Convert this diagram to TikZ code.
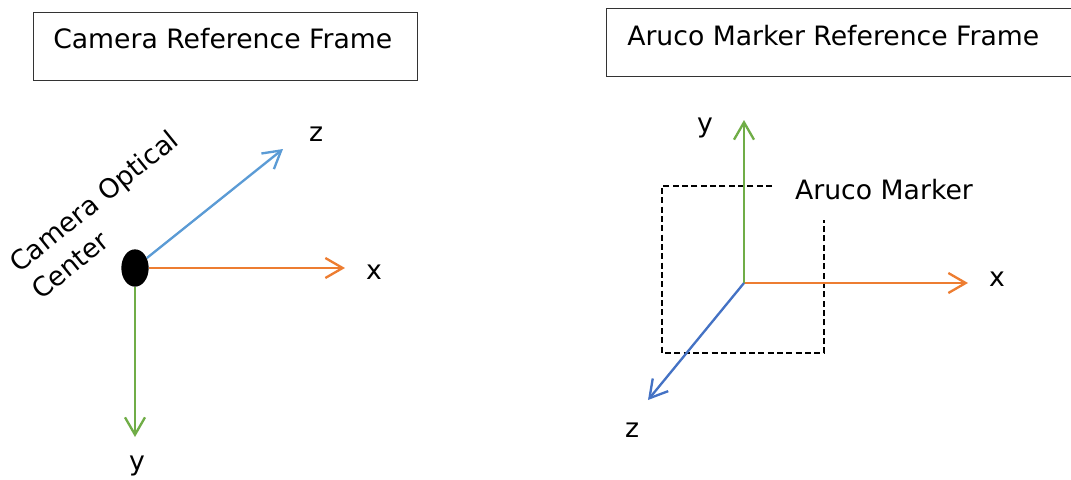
\documentclass[tikz,border=0pt]{standalone}
\usepackage{fontspec}
\setmainfont{DejaVu Sans}
\usepackage{tikz}
\usetikzlibrary{positioning,calc,shapes.geometric,arrows.meta}

\definecolor{axisorange}{HTML}{ED7D31}
\definecolor{axisgreen}{HTML}{70AD47}
\definecolor{axisblue}{HTML}{5B9BD5}
\definecolor{axisdarkblue}{HTML}{4472C4}

\begin{document}
\begin{tikzpicture}[x=0.75pt, y=-0.75pt, >={Straight Barb[length=13pt, width=15pt]},
  title/.style={rectangle, draw=black!80, thin, minimum width=288pt, minimum height=51pt, anchor=north west},
  lbl/.style={font=\fontsize{20}{26}\selectfont, inner sep=0pt},
  axis/.style={->, line width=1.75pt},
  marker/.style={line width=1.5pt, dash pattern=on 4.5pt off 2.5pt}]

  \useasboundingbox (0,0) rectangle (1071,479);

  % title boxes
  \node [title] (camtitle) at (33,12) {};
  \node [lbl, anchor=base west] (camtext) at (53,48) {Camera Reference Frame};
  \begin{scope}
    \clip (0,0) rectangle (1071,479);
    \node [title, minimum width=400pt] (arucotitle) at (606,8) {};
  \end{scope}
  \node [lbl, anchor=base west] (arucotext) at (627,45) {Aruco Marker Reference Frame};

  % camera frame
  \node [ellipse, fill=black, minimum width=20.5pt, minimum height=28pt, inner sep=0pt] (optcenter) at (135,268) {};
  \node [lbl, rotate=39, align=left, anchor=base west] (optlabel) at (41,301) {Camera Optical\\Center};
  \coordinate (camx) at (345,268);
  \coordinate (camy) at (135,437);
  \coordinate (camz) at (283,149);
  \draw [axis, axisorange] (optcenter.east) -- (camx);
  \draw [axis, axisgreen] (optcenter.south) -- (camy);
  \draw [axis, axisblue] (optcenter.40) -- (camz);
  \node [lbl] (camxlbl) at (374,272) {x};
  \node [lbl] (camylbl) at (137,466) {y};
  \node [lbl] (camzlbl) at (316,134) {z};

  % aruco marker frame
  \draw [marker] (772,186) -- (662,186) -- (662,353) -- (824,353) -- (824,220);
  \node [lbl] (markerlbl) at (884,190) {Aruco Marker};
  \coordinate (origin) at (744,283);
  \coordinate (arx) at (968,283);
  \coordinate (ary) at (744,120);
  \coordinate (arz) at (648,400);
  \draw [axis, axisorange] (origin) -- (arx);
  \draw [axis, axisgreen] (origin) -- (ary);
  \draw [axis, axisdarkblue] (origin) -- (arz);
  \node [lbl] (arxlbl) at (997,279) {x};
  \node [lbl] (arylbl) at (705,128) {y};
  \node [lbl] (arzlbl) at (632,430) {z};
\end{tikzpicture}
\end{document}
